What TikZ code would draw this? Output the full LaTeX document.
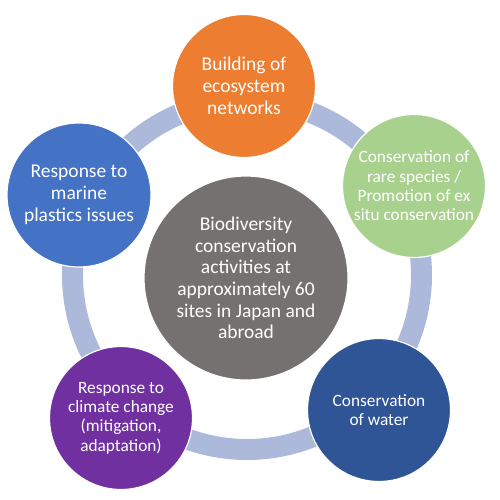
\documentclass[tikz,border=0pt]{standalone}
\usepackage{fontspec}
\setmainfont{Carlito}
\definecolor{ringc}{HTML}{ADB9DB}
\definecolor{corange}{HTML}{ED7D31}
\definecolor{cgreen}{HTML}{A9D18E}
\definecolor{cblue}{HTML}{4472C4}
\definecolor{cpurple}{HTML}{7030A0}
\definecolor{cdblue}{HTML}{2F5597}
\definecolor{cgray}{HTML}{767171}
\begin{document}
\begin{tikzpicture}[x=1pt,y=-1pt,
  bubble/.style={circle,draw=white,line width=1.2pt,inner sep=0pt,minimum size=143pt,
    text=white,align=center,font=\fontsize{19.5}{21.7}\selectfont},
  smallbubble/.style={bubble,font=\fontsize{17.3}{19.3}\selectfont},
  ringline/.style={draw=ringc,line width=21pt}]
\useasboundingbox (0,0) rectangle (500,500);
\coordinate (rc) at (247,275);
\draw[ringline] (rc) circle[radius=174.5];
\node[bubble,fill=cgray,minimum size=204pt] (center) at (246,278)
  {Biodiversity\\conservation\\activities at\\approximately 60\\sites in Japan and\\abroad};
\node[bubble,fill=corange] (orange) at (244,86)
  {Building of\\ecosystem\\networks};
\node[smallbubble,fill=cgreen] (green) at (414,186)
  {Conservation of\\rare species /\\Promotion of ex\\situ conservation};
\node[bubble,fill=cblue,minimum size=144pt] (blue) at (79,195)
  {Response to\\marine\\plastics issues};
\node[smallbubble,fill=cpurple] (purple) at (121,418)
  {Response to\\climate change\\(mitigation,\\adaptation)};
\node[smallbubble,fill=cdblue] (dblue) at (379,410)
  {Conservation\\of water};
\end{tikzpicture}
\end{document}
